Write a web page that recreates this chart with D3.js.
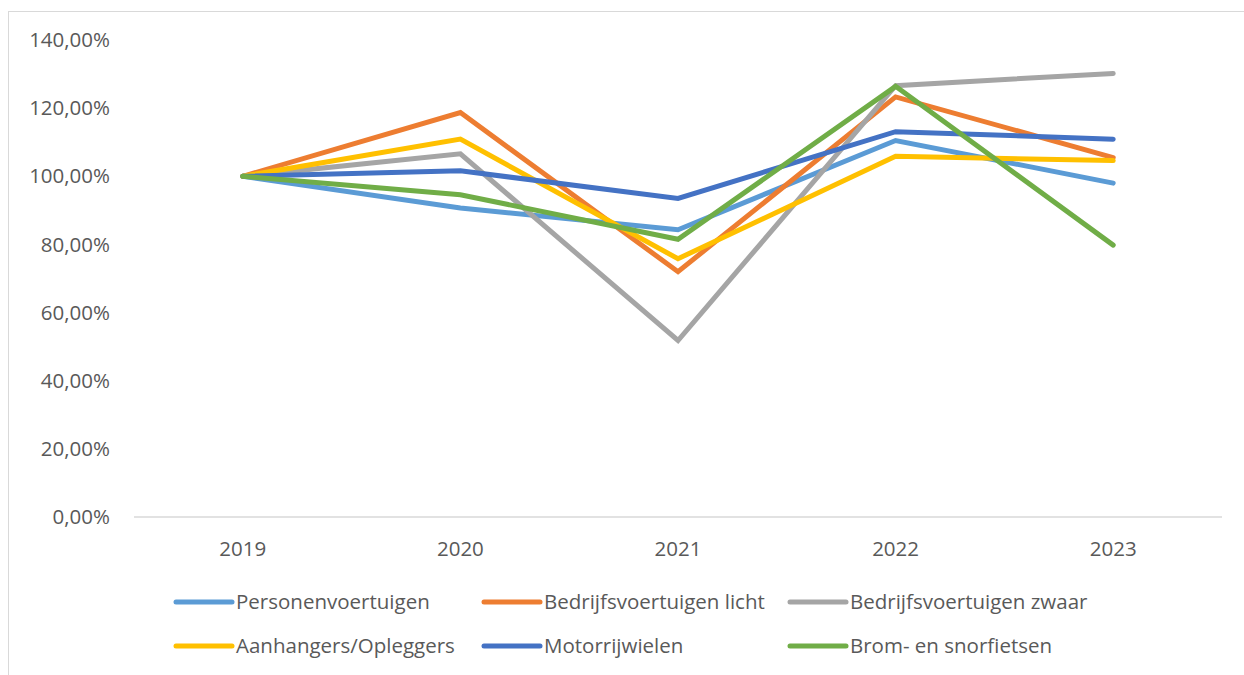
<!DOCTYPE html>
<html>
<head>
<meta charset="utf-8">
<script src="https://cdn.jsdelivr.net/npm/d3@7"></script>
<style>
  body { margin: 0; background: #fff; }
  text { font-family: "Open Sans", Lato, sans-serif; fill: #595959; }
</style>
</head>
<body>
<div id="chart"></div>
<script>
// data
var years = ["2019", "2020", "2021", "2022", "2023"];
var seriesNames = ["Personenvoertuigen", "Bedrijfsvoertuigen licht", "Bedrijfsvoertuigen zwaar",
                   "Aanhangers/Opleggers", "Motorrijwielen", "Brom- en snorfietsen"];
var seriesColors = ["#5b9bd5", "#ed7d31", "#a5a5a5", "#ffc000", "#4472c4", "#70ad47"];
var personen   = [100, 90.7, 84.3, 110.5, 98.0];
var licht      = [100, 118.7, 72.0, 123.3, 105.5];
var zwaar      = [100, 106.6, 51.8, 126.6, 130.2];
var aanhangers = [100, 110.9, 75.8, 105.9, 104.6];
var motor      = [100, 101.6, 93.5, 113.1, 110.9];
var brom       = [100, 94.6, 81.5, 126.4, 79.8];
var yTicks = [0, 20, 40, 60, 80, 100, 120, 140];

var allSeries = [personen, licht, zwaar, aanhangers, motor, brom];

var width = 1244, height = 675;
var fontSize = "20.5px";
var svg = d3.select("#chart").append("svg")
  .attr("width", width)
  .attr("height", height);

// chart frame (cut off at right and bottom like in the original)
svg.append("rect")
  .attr("x", 8.5).attr("y", 11.5)
  .attr("width", 1260).attr("height", 700)
  .attr("fill", "none")
  .attr("stroke", "#d9d9d9");

var plotLeft = 134, plotRight = 1222, plotTop = 40, plotBottom = 517;

var x = d3.scaleBand().domain(years).range([plotLeft, plotRight]);
var y = d3.scaleLinear().domain([0, 140]).range([plotBottom, plotTop]);

// y labels
svg.selectAll(".ytick")
  .data(yTicks)
  .enter().append("text")
  .attr("class", "ytick")
  .attr("x", 110)
  .attr("y", function(d) { return y(d); })
  .attr("dy", "0.35em")
  .attr("text-anchor", "end")
  .style("font-size", fontSize)
  .text(function(d) { return d3.format(".2f")(d).replace(".", ",") + "%"; });

// x axis line
svg.append("line")
  .attr("x1", plotLeft).attr("x2", plotRight)
  .attr("y1", y(0)).attr("y2", y(0))
  .attr("stroke", "#d9d9d9")
  .attr("stroke-width", 1.3);

// x labels
svg.selectAll(".xtick")
  .data(years)
  .enter().append("text")
  .attr("class", "xtick")
  .attr("x", function(d) { return x(d) + x.bandwidth() / 2; })
  .attr("y", 549)
  .attr("dy", "0.35em")
  .attr("text-anchor", "middle")
  .style("font-size", fontSize)
  .text(function(d) { return d; });

// lines
var line = d3.line()
  .x(function(d, i) { return x(years[i]) + x.bandwidth() / 2; })
  .y(function(d) { return y(d); });

svg.selectAll(".series")
  .data(allSeries)
  .enter().append("path")
  .attr("class", "series")
  .attr("d", line)
  .attr("fill", "none")
  .attr("stroke", function(d, i) { return seriesColors[i]; })
  .attr("stroke-width", 5)
  .attr("stroke-linejoin", "miter")
  .attr("stroke-linecap", "round");

// legend
var legendCols = [176, 484, 790];
var legendRows = [602, 646];

var legend = svg.selectAll(".legend")
  .data(seriesNames)
  .enter().append("g")
  .attr("class", "legend")
  .attr("transform", function(d, i) {
    return "translate(" + legendCols[i % 3] + "," + legendRows[Math.floor(i / 3)] + ")";
  });

legend.append("line")
  .attr("x1", 0).attr("x2", 56)
  .attr("y1", 0).attr("y2", 0)
  .attr("stroke", function(d, i) { return seriesColors[i]; })
  .attr("stroke-width", 5)
  .attr("stroke-linecap", "round");

legend.append("text")
  .attr("x", 60)
  .attr("y", 0)
  .attr("dy", "0.35em")
  .style("font-size", fontSize)
  .text(function(d) { return d; });
</script>
</body>
</html>
